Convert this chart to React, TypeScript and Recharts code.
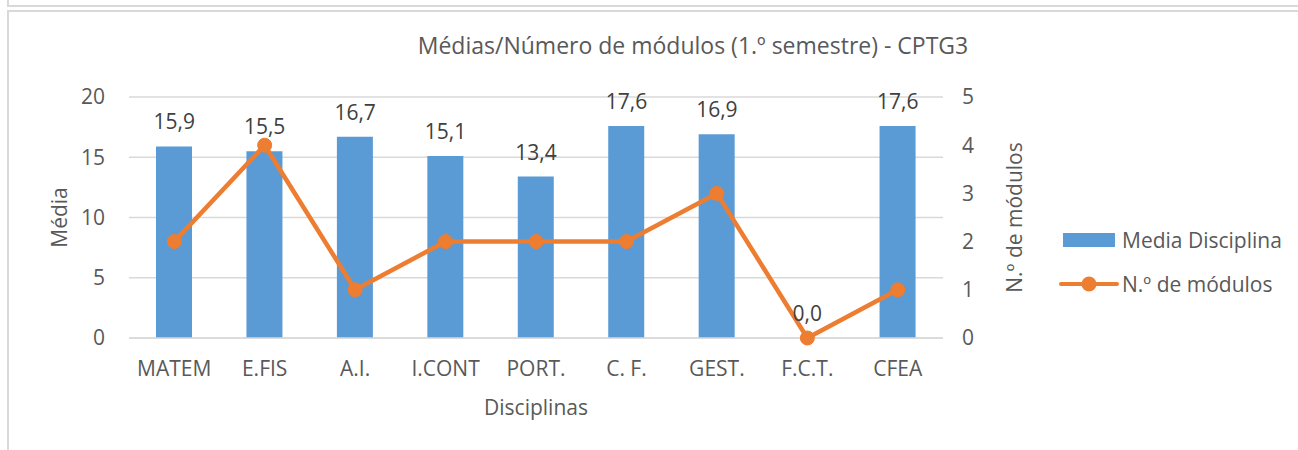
import React from 'react';
import { ComposedChart, Bar, Line, XAxis, YAxis, CartesianGrid, LabelList } from 'recharts';

const categories = ['MATEM', 'E.FIS', 'A.I.', 'I.CONT', 'PORT.', 'C. F.', 'GEST.', 'F.C.T.', 'CFEA'];
const mediaDisciplina = [15.9, 15.5, 16.7, 15.1, 13.4, 17.6, 16.9, 0, 17.6];
const numModulos = [2, 4, 1, 2, 2, 2, 3, 0, 1];
const leftTicks = [0, 5, 10, 15, 20];
const rightTicks = [0, 1, 2, 3, 4, 5];

const data = categories.map((name, i) => ({
  name,
  media: mediaDisciplina[i],
  modulos: numModulos[i],
}));

const FONT = '"Open Sans", sans-serif';
const TEXT = '#595959';
const GRID = '#D9D9D9';
const BLUE = '#5B9BD5';
const ORANGE = '#ED7D31';
const FS = 21;

const formatComma = (v: any) => Number(v).toFixed(1).replace('.', ',');

const ChartLegend = () => (
  <svg width={240} height={80} style={{ display: 'block' }}>
    <rect x={5} y={8} width={52} height={14} fill={BLUE} />
    <text x={64} y={15} dominantBaseline="central" fontSize={21} fill={TEXT} fontFamily={FONT}>
      Media Disciplina
    </text>
    <line x1={3} x2={59} y1={59} y2={59} stroke={ORANGE} strokeWidth={4} strokeLinecap="round" />
    <circle cx={31} cy={59} r={7.5} fill={ORANGE} />
    <text x={64} y={59} dominantBaseline="central" fontSize={21} fill={TEXT} fontFamily={FONT}>
      N.º de módulos
    </text>
  </svg>
);

const App: React.FC = () => {
  const tick = { fontSize: FS, fill: TEXT, fontFamily: FONT };
  return (
    <div
      style={{
        position: 'absolute',
        left: 0,
        top: 0,
        width: 1298,
        height: 450,
        overflow: 'hidden',
        background: '#fff',
        fontFamily: FONT,
      }}
    >
      <div style={{ position: 'absolute', left: 7, top: -100, width: 1400, height: 103, border: `2px solid ${GRID}` }} />
      <div style={{ position: 'absolute', left: 7, top: 10, width: 1400, height: 500, border: `2px solid ${GRID}` }} />
      <div
        style={{
          position: 'absolute',
          left: 293,
          top: 29,
          width: 800,
          textAlign: 'center',
          fontSize: 23,
          color: TEXT,
          lineHeight: '32px',
        }}
      >
        Médias/Número de módulos (1.º semestre) - CPTG3
      </div>
      <div style={{ position: 'absolute', left: 8, top: 10 }}>
        <ComposedChart
          width={1290}
          height={440}
          data={data}
          margin={{ top: 87, right: 265, left: 30, bottom: 32 }}
          barCategoryGap={0}
        >
          <CartesianGrid vertical={false} stroke={GRID} strokeWidth={1.5} yAxisId="left" />
          <XAxis
            dataKey="name"
            axisLine={{ stroke: GRID, strokeWidth: 1.5 }}
            tickLine={false}
            tickSize={6}
            tickMargin={17}
            height={80}
            tick={tick}
            interval={0}
            label={{ value: 'Disciplinas', position: 'insideBottom', offset: 3, fontSize: FS, fill: TEXT, fontFamily: FONT }}
          />
          <YAxis
            yAxisId="left"
            domain={[0, 20]}
            ticks={leftTicks}
            axisLine={false}
            tickLine={false}
            tickSize={6}
            tickMargin={18}
            width={91}
            tick={tick}
            label={{ value: 'Média', angle: -90, position: 'insideLeft', offset: 22, fontSize: FS, fill: TEXT, fontFamily: FONT, style: { textAnchor: 'middle' } }}
          />
          <YAxis
            yAxisId="right"
            orientation="right"
            domain={[0, 5]}
            ticks={rightTicks}
            axisLine={false}
            tickLine={false}
            tickSize={6}
            tickMargin={13}
            width={90}
            tick={tick}
            label={{ value: 'N.º de módulos', angle: -90, position: 'insideRight', offset: 18, fontSize: FS, fill: TEXT, fontFamily: FONT, style: { textAnchor: 'middle' } }}
          />
          <Bar yAxisId="left" dataKey="media" name="Media Disciplina" fill={BLUE} barSize={36} isAnimationActive={false} />
          {/* invisible series carrying the bar value labels, so the 0,0 label is drawn too */}
          <Line
            yAxisId="left"
            dataKey="media"
            stroke="none"
            dot={false}
            activeDot={false}
            legendType="none"
            isAnimationActive={false}
          >
            <LabelList
              dataKey="media"
              position="top"
              offset={17}
              formatter={formatComma}
              style={{ fontSize: FS, fill: '#404040', fontFamily: FONT }}
            />
          </Line>
          <Line
            yAxisId="right"
            dataKey="modulos"
            name="N.º de módulos"
            stroke={ORANGE}
            strokeWidth={4.5}
            dot={{ r: 7, fill: ORANGE, stroke: ORANGE, strokeWidth: 1 }}
            activeDot={false}
            isAnimationActive={false}
          />
        </ComposedChart>
      </div>
      <div style={{ position: 'absolute', left: 1058, top: 225 }}>
        <ChartLegend />
      </div>
    </div>
  );
};

export default App;
